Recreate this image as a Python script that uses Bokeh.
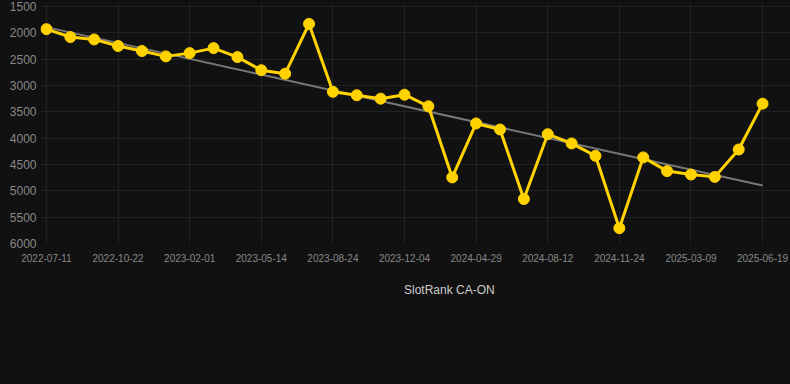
import numpy as np
from bokeh.plotting import figure
from bokeh.layouts import column
from bokeh.models import Range1d, FixedTicker, Legend, LegendItem
from bokeh.embed import file_html
from bokeh.resources import INLINE

# ---- data ----
series_name = "SlotRank CA-ON"
ranks = [1930, 2080, 2125, 2250, 2345, 2447, 2385, 2290, 2460, 2710,
         2775, 1830, 3120, 3185, 3250, 3175, 3395, 4745, 3720, 3835,
         5155, 3925, 4100, 4335, 5710, 4365, 4625, 4690, 4735, 4215,
         3345]
tick_labels = ["2022-07-11", "2022-10-22", "2023-02-01", "2023-05-14",
               "2023-08-24", "2023-12-04", "2024-04-29", "2024-08-12",
               "2024-11-24", "2025-03-09", "2025-06-19"]
tick_step = 3
y_ticks = [1500, 2000, 2500, 3000, 3500, 4000, 4500, 5000, 5500, 6000]

# ---- styling ----
BG = "#111111"
GRID = "#222222"
YELLOW = "#FFD200"
TREND = "#777777"
TICK_TXT = "#888888"
FONT = "Liberation Sans"

xs = list(range(len(ranks)))
x_ticks = list(range(0, len(ranks), tick_step))

p = figure(frame_width=750, frame_height=241, output_backend="svg", toolbar_location=None,
           x_range=Range1d(-0.25, 31.17), y_range=Range1d(6000, 1424),
           background_fill_color=BG, border_fill_color=BG,
           min_border_left=40, min_border_right=0, min_border_top=2,
           min_border_bottom=0)
p.outline_line_color = None

# trend line (least squares fit of the series)
coef = np.polyfit(xs, ranks, 1)
trend_x = [xs[0], xs[-1]]
trend_y = [float(np.polyval(coef, v)) for v in trend_x]
p.line(trend_x, trend_y, line_color=TREND, line_width=2)

p.line(xs, ranks, line_color=YELLOW, line_width=3)
p.scatter(xs, ranks, size=11, fill_color=YELLOW, line_color=YELLOW)

# axes
p.xaxis.ticker = FixedTicker(ticks=x_ticks)
p.xaxis.major_label_overrides = {t: lab for t, lab in zip(x_ticks, tick_labels)}
p.yaxis.ticker = FixedTicker(ticks=y_ticks)
for ax in (p.xaxis[0], p.yaxis[0]):
    ax.axis_line_color = None
    ax.major_tick_line_color = None
    ax.minor_tick_line_color = None
    ax.major_tick_out = 0
    ax.major_tick_in = 0
    ax.major_label_text_color = TICK_TXT
    ax.major_label_text_font = FONT
p.xaxis.major_label_text_font_size = "10px"
p.yaxis.major_label_text_font_size = "12px"
p.xaxis.major_label_standoff = 10
p.yaxis.major_label_standoff = 4

p.xgrid.ticker = FixedTicker(ticks=x_ticks)
p.ygrid.ticker = FixedTicker(ticks=y_ticks)
p.xgrid.grid_line_color = GRID
p.ygrid.grid_line_color = GRID

# ---- legend strip below the chart ----
leg = figure(width=790, height=119, output_backend="svg", toolbar_location=None,
             x_range=Range1d(0, 1), y_range=Range1d(0, 1),
             x_axis_type=None, y_axis_type=None,
             background_fill_color=BG, border_fill_color=BG,
             min_border_left=0, min_border_right=0, min_border_top=0,
             min_border_bottom=0)
leg.outline_line_color = None
leg.xgrid.visible = False
leg.ygrid.visible = False
swatch = leg.quad(left=[], right=[], top=[], bottom=[], fill_color=YELLOW, line_color=YELLOW)

legend = Legend(items=[LegendItem(label=series_name, renderers=[swatch])],
                orientation="horizontal", location=(317, 86),
                glyph_width=40, glyph_height=12, label_standoff=7,
                label_text_font=FONT, label_text_font_size="12px",
                label_text_color="#cccccc", background_fill_alpha=0,
                border_line_color=None, margin=0, padding=4)
leg.add_layout(legend, "center")

layout = column(p, leg, spacing=0)

template = """{% block preamble %}<style>html, body { background: #111111; }</style>{% endblock %}"""
open("out.html", "w").write(file_html(layout, INLINE, template=template))
